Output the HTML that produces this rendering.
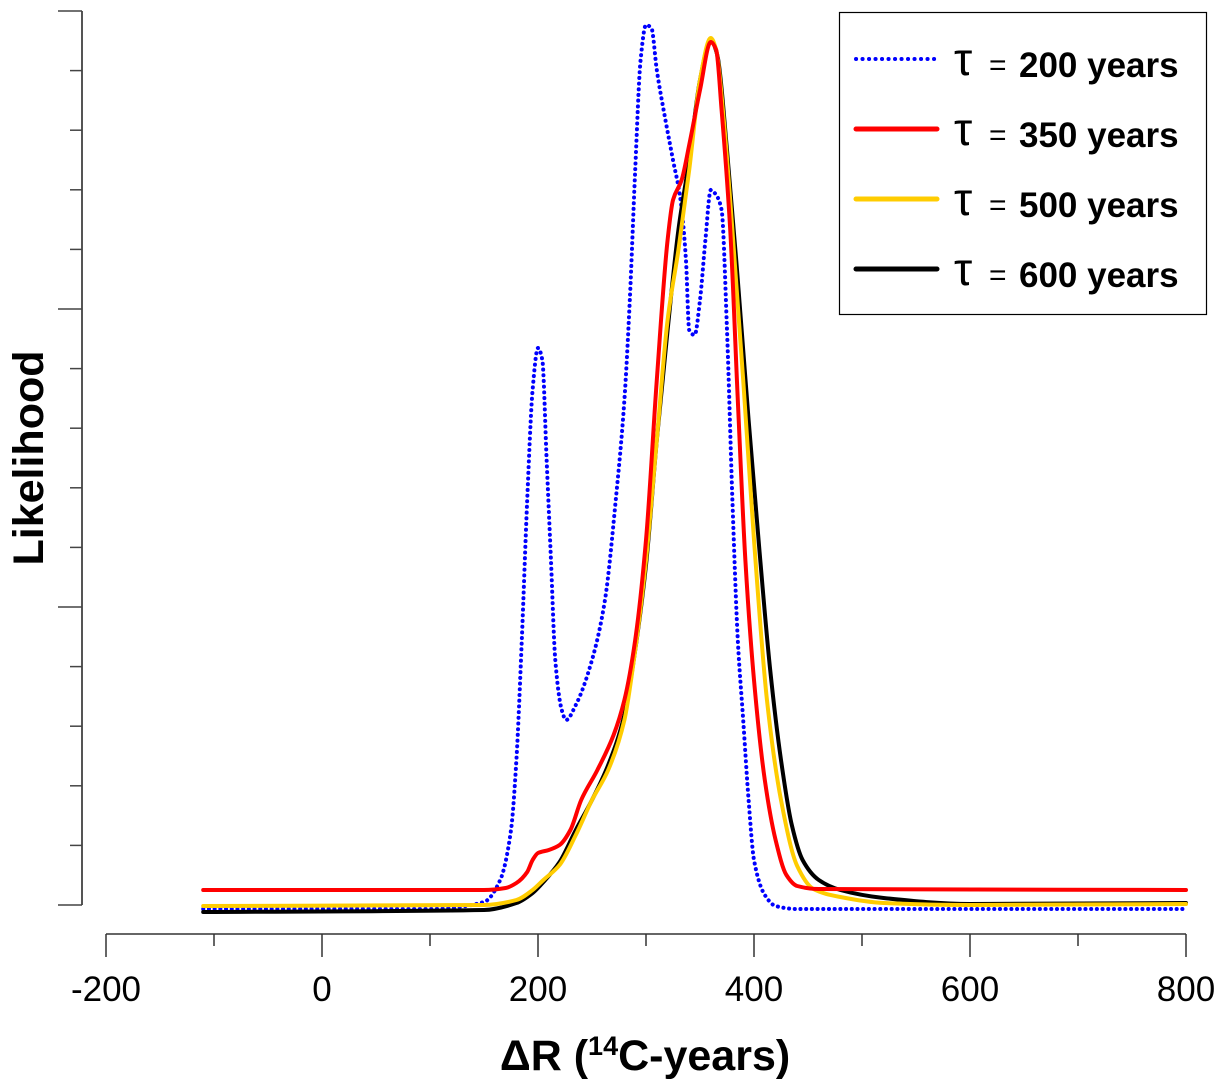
<!DOCTYPE html>
<html><head><meta charset="utf-8"><style>
html,body{margin:0;padding:0;background:#fff}
svg{display:block}
text{font-family:"Liberation Sans",sans-serif}
</style></head><body>
<svg id="chart" width="1225" height="1088" viewBox="0 0 1225 1088" xmlns="http://www.w3.org/2000/svg">
<g id="axes"></g>
<g id="series"></g>
<g id="legend">
<rect x="839.5" y="12.5" width="367" height="302" fill="#fff" stroke="#000" stroke-width="1.2"/>
</g>
<text transform="translate(43,458) rotate(-90)" text-anchor="middle" font-size="43" font-weight="bold">Likelihood</text>
<text x="645" y="1070" text-anchor="middle" font-size="43" font-weight="bold">ΔR (<tspan font-size="27" dy="-15">14</tspan><tspan dy="15">C-years)</tspan></text>
</svg>
<script>
const xTicks = [-200, 0, 200, 400, 600, 800];
const xMinor = [-100, 100, 300, 500, 700];
const blueX = [-110,100,150,165,175,180,185,190,195,200,204,208,212,216,222,226,235,250,262,272,280,285,290,295,300,305,310,318,325,332,337,340,345,350,355,360,365,370,375,380,385,390,395,400,410,420,440,800];
const blueY = [3,3,10,32,82,152,272,412,522,564,552,452,352,252,202,192,207,252,312,412,512,612,742,852,887,884,842,792,752,712,652,582,577,612,672,722,717,702,582,412,272,192,112,52,17,6,3,3];
const redX = [-110,150,170,180,190,195,200,210,220,230,240,255,270,280,290,300,310,320,325,333,340,350,360,365,370,378,385,392,400,410,420,430,440,460,800];
const redY = [22,22,24,29,40,52,59,62,67,82,112,142,177,212,272,372,532,672,712,732,767,822,870,862,802,682,512,352,232,132,72,37,26,23,22];
const yellowX = [-110,150,180,195,205,220,235,250,265,280,290,300,310,320,330,340,350,360,365,372,380,390,400,412,425,440,455,480,520,600,800];
const yellowY = [6,7,12,22,32,47,77,112,142,192,262,352,472,592,662,742,832,874,862,792,682,532,372,212,112,46,23,15,9,7,8];
const blackX = [-110,150,180,195,205,220,235,250,265,280,290,300,310,320,330,340,350,360,366,375,385,395,405,415,425,435,445,460,480,520,600,800];
const blackY = [0,2,9,19,30,50,82,112,147,197,262,347,472,582,682,752,832,872,857,762,632,492,362,242,152,87,52,32,22,14,8,9];

const sx = v => 322 + v * 1.08;
const sy = v => 912 - v;
const NS = 'http://www.w3.org/2000/svg';
function mk(tag, attrs, parent){const e=document.createElementNS(NS,tag);for(const k in attrs)e.setAttribute(k,attrs[k]);parent.appendChild(e);return e;}

const axes = document.getElementById('axes');
let yl = mk('line',{x1:82,y1:11,x2:82,y2:905,stroke:'#555','stroke-width':2},axes);


for(let i=0;i<16;i++){
  const y = 11 + i*59.6;
  const long = (i%5===0);
  const t = mk('line',{x1:long?58:70,y1:y,x2:82,y2:y,stroke:'#444','stroke-width':1.5},axes);
  
  
}
let xl = mk('line',{x1:sx(-200),y1:934,x2:sx(800),y2:934,stroke:'#333','stroke-width':1.5},axes);


xTicks.forEach(v=>{
  const t = mk('line',{x1:sx(v),y1:934,x2:sx(v),y2:957,stroke:'#333','stroke-width':1.5},axes);
  
  
  const l = mk('text',{x:sx(v),y:1001,'text-anchor':'middle','font-size':35},axes);
  l.textContent = v;
  
  
});
xMinor.forEach(v=>{
  const t = mk('line',{x1:sx(v),y1:934,x2:sx(v),y2:946,stroke:'#333','stroke-width':1.5},axes);
  
  
});

// monotone cubic interpolation (Fritsch-Carlson)
function pathFor(xs, ys){
  const p = xs.map((x,i)=>[sx(x), sy(ys[i])]);
  const n = p.length;
  const d = [], m = new Array(n);
  for(let i=0;i<n-1;i++) d.push((p[i+1][1]-p[i][1])/(p[i+1][0]-p[i][0]));
  m[0]=d[0]; m[n-1]=d[n-2];
  for(let i=1;i<n-1;i++){
    if(d[i-1]*d[i]<=0) m[i]=0;
    else {
      const h0=p[i][0]-p[i-1][0], h1=p[i+1][0]-p[i][0];
      const w1=2*h1+h0, w2=h1+2*h0;
      m[i]=(w1+w2)/(w1/d[i-1]+w2/d[i]);
    }
  }
  let s='M'+p[0][0]+','+p[0][1];
  for(let i=0;i<n-1;i++){
    const h=(p[i+1][0]-p[i][0])/3;
    s+=' C'+(p[i][0]+h)+','+(p[i][1]+m[i]*h)+' '+(p[i+1][0]-h)+','+(p[i+1][1]-m[i+1]*h)+' '+p[i+1][0]+','+p[i+1][1];
  }
  return s;
}
const series = document.getElementById('series');
const defs = [
  {n:'series-tau-200', xs:blueX, ys:blueY, c:'#0000ff', w:4, dash:'0.1 5.6'},
  {n:'series-tau-600', xs:blackX, ys:blackY, c:'#000', w:4},
  {n:'series-tau-500', xs:yellowX, ys:yellowY, c:'#ffcc00', w:4},
  {n:'series-tau-350', xs:redX, ys:redY, c:'#ff0000', w:4}
];
defs.forEach(s=>{
  const a = {d:pathFor(s.xs,s.ys),fill:'none',stroke:s.c,'stroke-width':s.w,'stroke-linecap':'round','stroke-linejoin':'round'};
  if(s.dash) a['stroke-dasharray']=s.dash;
  const e = mk('path',a,series);
  
  
});
const legend = document.getElementById('legend');
const entries = [['200','#0000ff',true],['350','#ff0000',false],['500','#ffcc00',false],['600','#000',false]];
entries.forEach((en,i)=>{
  const y = 65 + i*70;
  const g = mk('g',{},legend);
  
  
  const a = {x1:856,y1:y-6,x2:937,y2:y-6,stroke:en[1],'stroke-width':en[2]?4:5,'stroke-linecap':'round'};
  if(en[2]) a['stroke-dasharray']='0.1 6.4';
  mk('line',a,g);
  const t1 = mk('text',{x:954,y:y+10,'font-size':46,'font-family':'Liberation Serif, serif'},g);
  t1.textContent='τ';
  const t2 = mk('text',{x:989,y:y+10,'font-size':30,'font-family':'Liberation Serif, serif'},g);
  t2.textContent='=';
  const t3 = mk('text',{x:1019,y:y+12,'font-size':35,'font-weight':'bold'},g);
  t3.textContent=en[0]+' years';
});
</script>
</body></html>
